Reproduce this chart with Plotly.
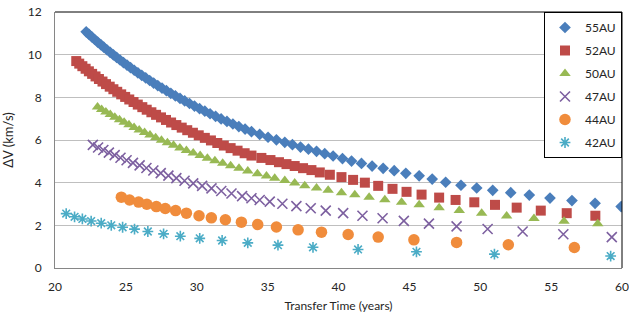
import plotly.graph_objects as go

series_names = ["55AU", "52AU", "50AU", "47AU", "44AU", "42AU"]

x_55 = [22.20, 22.40, 22.60, 22.80, 23.01, 23.23, 23.44, 23.66, 23.89, 24.12, 24.35, 24.59, 24.83,
        25.08, 25.33, 25.59, 25.85, 26.12, 26.40, 26.68, 26.96, 27.25, 27.55, 27.86, 28.17, 28.49,
        28.82, 29.15, 29.49, 29.84, 30.20, 30.57, 30.94, 31.33, 31.72, 32.13, 32.55, 32.97, 33.41,
        33.86, 34.44, 35.03, 35.62, 36.21, 36.75, 37.32, 37.88, 38.45, 39.03, 39.62, 40.28, 40.92,
        41.62, 42.37, 43.15, 43.93, 44.75, 45.69, 46.61, 47.56, 48.64, 49.75, 50.88, 52.15, 53.46,
        54.92, 56.47, 58.10, 59.94]
y_55 = [11.07, 10.95, 10.83, 10.71, 10.59, 10.47, 10.35, 10.23, 10.11, 9.99, 9.87, 9.75, 9.63,
        9.51, 9.39, 9.27, 9.15, 9.03, 8.91, 8.79, 8.67, 8.55, 8.43, 8.31, 8.19, 8.07,
        7.95, 7.83, 7.71, 7.59, 7.47, 7.35, 7.23, 7.11, 6.99, 6.87, 6.75, 6.63, 6.51,
        6.39, 6.26, 6.13, 6.01, 5.89, 5.78, 5.67, 5.57, 5.47, 5.36, 5.25, 5.13, 5.01,
        4.90, 4.78, 4.67, 4.56, 4.44, 4.32, 4.17, 4.02, 3.88, 3.75, 3.64, 3.53, 3.42,
        3.28, 3.16, 3.03, 2.88]

x_52 = [21.50, 21.71, 21.93, 22.16, 22.39, 22.62, 22.86, 23.10, 23.35, 23.60, 23.86, 24.12, 24.39,
        24.67, 24.95, 25.24, 25.54, 25.84, 26.16, 26.47, 26.80, 27.13, 27.48, 27.83, 28.19, 28.56,
        28.94, 29.33, 29.73, 30.14, 30.57, 31.00, 31.45, 31.91, 32.39, 32.88, 33.38, 33.86, 34.56,
        35.20, 35.80, 36.33, 36.91, 37.50, 38.09, 38.68, 39.39, 40.21, 41.03, 41.86, 42.80, 43.81,
        44.80, 45.86, 47.10, 48.26, 49.58, 51.04, 52.57, 54.27, 56.10, 58.12]
y_52 = [9.70, 9.58, 9.46, 9.34, 9.22, 9.10, 8.98, 8.86, 8.74, 8.62, 8.50, 8.38, 8.26,
        8.14, 8.02, 7.90, 7.78, 7.66, 7.54, 7.42, 7.30, 7.18, 7.06, 6.94, 6.82, 6.70,
        6.58, 6.46, 6.34, 6.22, 6.10, 5.98, 5.86, 5.74, 5.62, 5.50, 5.38, 5.27, 5.16,
        5.06, 4.96, 4.87, 4.78, 4.68, 4.59, 4.48, 4.37, 4.26, 4.13, 4.00, 3.85, 3.71,
        3.57, 3.44, 3.30, 3.19, 3.08, 2.96, 2.83, 2.69, 2.57, 2.45]

x_50 = [23.00, 23.29, 23.59, 23.90, 24.22, 24.55, 24.88, 25.22, 25.58, 25.94, 26.32, 26.70, 27.10,
        27.51, 27.93, 28.36, 28.81, 29.27, 29.75, 30.24, 30.75, 31.28, 31.83, 32.39, 32.98, 33.60,
        34.28, 34.92, 35.50, 36.21, 36.91, 37.62, 38.45, 39.27, 40.21, 41.15, 42.16, 43.27, 44.45,
        45.69, 47.10, 48.52, 50.10, 51.86, 53.79, 55.91, 58.29]
y_50 = [7.55, 7.43, 7.31, 7.19, 7.07, 6.95, 6.83, 6.71, 6.59, 6.47, 6.35, 6.23, 6.11,
        5.99, 5.87, 5.75, 5.63, 5.51, 5.39, 5.27, 5.15, 5.03, 4.91, 4.79, 4.67, 4.55,
        4.42, 4.31, 4.21, 4.10, 3.98, 3.86, 3.75, 3.64, 3.53, 3.43, 3.32, 3.20, 3.08,
        2.97, 2.82, 2.70, 2.57, 2.44, 2.32, 2.19, 2.07]

x_47 = [22.67, 23.04, 23.41, 23.80, 24.21, 24.62, 25.05, 25.50, 25.97, 26.45, 26.94, 27.46, 28.00,
        28.56, 29.14, 29.75, 30.38, 31.04, 31.73, 32.45, 33.20, 33.86, 34.44, 35.15, 36.04, 37.03,
        38.04, 39.10, 40.33, 41.69, 43.11, 44.61, 46.38, 48.33, 50.52, 52.99, 55.86, 59.28]
y_47 = [5.77, 5.65, 5.53, 5.41, 5.29, 5.17, 5.05, 4.93, 4.81, 4.69, 4.57, 4.45, 4.33,
        4.21, 4.09, 3.97, 3.85, 3.73, 3.61, 3.49, 3.37, 3.27, 3.19, 3.11, 3.01, 2.90,
        2.80, 2.69, 2.57, 2.45, 2.33, 2.21, 2.08, 1.95, 1.83, 1.71, 1.58, 1.45]

x_44 = [24.68, 25.26, 25.90, 26.48, 27.15, 27.78, 28.51, 29.27, 30.16, 31.03, 32.02, 33.15, 34.30,
        35.62, 37.15, 38.80, 40.68, 42.80, 45.32, 48.33, 51.98, 56.64]
y_44 = [3.32, 3.19, 3.09, 2.99, 2.88, 2.79, 2.69, 2.57, 2.45, 2.35, 2.26, 2.15, 2.04,
        1.92, 1.79, 1.68, 1.57, 1.45, 1.32, 1.20, 1.09, 0.96]

x_42 = [20.79, 21.38, 21.93, 22.55, 23.26, 23.97, 24.77, 25.61, 26.55, 27.66, 28.84, 30.21, 31.79,
        33.60, 35.73, 38.20, 41.38, 45.50, 51.00, 59.20]
y_42 = [2.55, 2.40, 2.30, 2.20, 2.10, 2.00, 1.91, 1.82, 1.71, 1.60, 1.49, 1.39, 1.29,
        1.18, 1.07, 0.97, 0.87, 0.76, 0.65, 0.56]

xs = [x_55, x_52, x_50, x_47, x_44, x_42]
ys = [y_55, y_52, y_50, y_47, y_44, y_42]

symbols = ["diamond", "square", "triangle-up", "x-thin-open", "circle", "asterisk-open"]
sizes = [9, 10, 10, 10, 11.5, 9]
colors = ["#4A7EBB", "#BE4B48", "#98B954", "#7D60A0", "#F08C3C", "#4BACC6"]

FONT = "Lato, 'Open Sans', sans-serif"

fig = go.Figure()
for name, xv, yv, sym, sz, col in zip(series_names, xs, ys, symbols, sizes, colors):
    line_based = sym.endswith("-open")
    fig.add_trace(go.Scatter(
        x=xv, y=yv, mode="markers", name=name, legendgroup=name,
        marker=dict(symbol=sym, size=sz, color=col,
                    line=dict(color=col, width=1.6 if line_based else 0)),
    ))

fig.update_layout(
    width=629, height=320,
    margin=dict(l=55, r=7, t=12, b=52, autoexpand=False),
    paper_bgcolor="white", plot_bgcolor="white",
    font=dict(family=FONT, size=12, color="#262626"),
    showlegend=True,
    legend=dict(x=1, xanchor="right", y=1, yanchor="top",
                bgcolor="white", bordercolor="black", borderwidth=1,
                font=dict(size=12, color="#262626"),
                tracegroupgap=4, itemwidth=30),
    xaxis=dict(range=[20, 60], tick0=20, dtick=5, showgrid=False, zeroline=False,
               showline=True, linecolor="#868686", linewidth=1, ticks="", automargin=False,
               ticklabelstandoff=8, ticklabeloverflow="allow", tickfont=dict(size=12),
               title=dict(text="Transfer Time (years)", font=dict(size=12), standoff=8)),
    yaxis=dict(range=[0, 12], tick0=0, dtick=2, showgrid=True, gridcolor="#BFBFBF", gridwidth=1,
               zeroline=False, showline=True, linecolor="#868686", linewidth=1, ticks="",
               automargin=False,
               ticklabelstandoff=10, ticklabeloverflow="allow", tickfont=dict(size=12),
               title=dict(text="ΔV (km/s)", font=dict(size=13), standoff=15)),
    shapes=[
        dict(type="line", xref="paper", yref="paper", x0=0, x1=1, y0=1, y1=1,
             line=dict(color="black", width=1)),
        dict(type="line", xref="paper", yref="paper", x0=1, x1=1, y0=0, y1=1,
             line=dict(color="black", width=1)),
    ],
)

# remove the default 8px page margin so the figure fills the window exactly
fig.write_html("out.html", config={"displayModeBar": False},
               post_script="document.body.style.margin='0';")
